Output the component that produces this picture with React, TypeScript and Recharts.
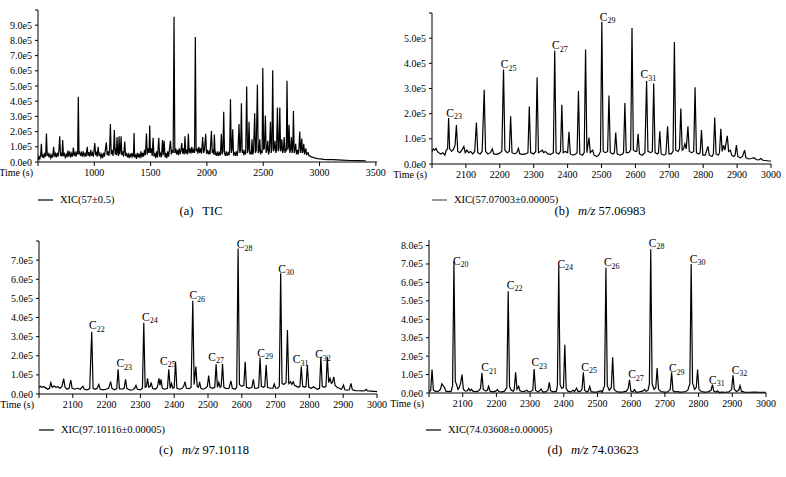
import React from 'react';
import { LineChart, Line, XAxis, YAxis, ReferenceDot } from 'recharts';

// intensities are in units of 1e5, times in seconds
const tic = [
  [500,0.15],[508,0.35],[516,0.2],[524,0.5],[530,1.2],[536,0.3],[544,0.45],[552,0.25],[560,0.6],[568,0.35],
  [575,1.88],[582,0.4],[590,0.6],[598,0.3],[606,0.5],[614,0.25],[622,0.45],[630,0.3],[639,1.0],[646,0.35],
  [654,0.55],[662,0.3],[670,0.6],[678,0.35],[686,0.8],[693,1.7],[700,0.4],[708,0.6],[713,0.35],[719,1.45],
  [726,0.4],[734,0.55],[742,0.3],[750,0.5],[758,0.3],[766,0.75],[774,0.35],[782,0.7],[790,0.3],[798,0.55],
  [806,0.35],[814,0.95],[822,0.4],[830,0.6],[838,0.35],[846,0.7],[852,0.5],[858,4.3],[864,0.5],[870,0.7],
  [878,0.4],[886,0.6],[894,0.35],[902,0.7],[910,0.4],[918,0.55],[926,0.35],[937,1.0],[944,0.4],[952,0.65],
  [960,0.35],[968,0.8],[976,0.4],[984,0.6],[992,0.35],[1004,1.25],[1012,0.45],[1020,0.6],[1026,0.35],[1034,1.0],
  [1042,0.4],[1050,0.55],[1058,0.3],[1066,0.5],[1074,0.25],[1082,0.6],[1090,0.35],[1098,0.8],[1107,1.3],[1114,0.45],
  [1122,0.7],[1130,0.4],[1136,0.9],[1143,2.5],[1150,0.5],[1158,0.8],[1166,0.4],[1172,0.9],[1178,2.1],[1185,0.5],
  [1192,0.9],[1196,0.45],[1202,1.65],[1208,0.6],[1214,0.4],[1220,1.7],[1226,0.5],[1232,0.8],[1238,1.7],[1244,0.45],
  [1252,0.7],[1260,0.35],[1270,1.35],[1278,0.4],[1286,0.6],[1294,0.3],[1302,0.5],[1310,0.25],[1318,0.55],[1326,0.3],
  [1334,0.6],[1342,0.35],[1348,0.45],[1353,1.9],[1358,0.3],[1366,0.5],[1374,0.2],[1382,0.6],[1390,0.3],[1398,0.55],
  [1406,0.25],[1414,0.7],[1422,0.3],[1430,0.6],[1438,0.35],[1446,0.8],[1454,0.45],[1463,1.88],[1470,0.5],[1478,0.9],
  [1486,0.6],[1492,2.4],[1498,0.6],[1506,0.9],[1514,0.4],[1522,1.6],[1530,0.35],[1538,0.6],[1546,0.25],[1554,0.7],
  [1562,0.3],[1572,1.6],[1580,0.35],[1588,0.55],[1596,0.3],[1605,1.45],[1612,0.45],[1620,1.4],[1628,0.3],[1636,0.6],
  [1644,0.25],[1652,0.7],[1660,0.35],[1668,0.9],[1676,1.4],[1684,0.5],[1692,0.8],[1700,0.6],[1708,9.55],[1715,0.6],
  [1722,0.9],[1730,0.5],[1738,0.8],[1746,0.45],[1754,0.9],[1762,0.5],[1770,0.8],[1776,1.25],[1784,0.55],[1792,0.9],
  [1798,0.5],[1805,1.7],[1812,0.55],[1820,0.8],[1828,0.5],[1835,1.85],[1842,0.6],[1850,0.9],[1858,0.55],[1866,1.0],
  [1874,0.6],[1882,0.8],[1890,0.6],[1897,8.22],[1904,0.7],[1912,0.9],[1920,0.55],[1928,1.0],[1936,0.6],[1944,0.9],
  [1952,0.55],[1962,1.65],[1970,0.6],[1978,0.8],[1989,1.85],[1996,0.55],[2004,0.8],[2012,0.5],[2020,0.7],[2028,0.5],
  [2040,2.05],[2047,0.6],[2054,0.8],[2060,0.5],[2066,1.8],[2073,0.45],[2080,0.6],[2088,0.4],[2096,0.7],[2104,0.4],
  [2112,0.6],[2120,0.45],[2128,1.85],[2135,0.5],[2142,0.7],[2149,3.3],[2156,0.6],[2164,0.4],[2172,0.7],[2180,0.4],
  [2188,0.6],[2196,0.45],[2202,0.8],[2209,4.13],[2216,0.6],[2222,0.8],[2229,2.15],[2236,0.5],[2244,0.6],[2252,0.4],
  [2260,0.7],[2268,0.4],[2276,0.8],[2285,2.5],[2292,0.6],[2299,0.8],[2306,3.86],[2313,0.6],[2320,0.8],[2328,0.45],
  [2336,0.7],[2344,0.5],[2353,4.97],[2360,0.6],[2367,0.8],[2374,2.65],[2381,0.5],[2388,0.7],[2394,0.5],[2400,1.5],
  [2407,0.5],[2414,0.7],[2424,3.2],[2431,0.6],[2438,0.8],[2448,5.08],[2455,0.6],[2462,0.7],[2469,1.5],[2476,0.5],
  [2483,0.7],[2490,0.6],[2496,6.18],[2503,0.8],[2510,0.9],[2519,3.05],[2526,0.6],[2533,0.8],[2540,1.4],[2547,0.5],
  [2554,0.7],[2564,2.65],[2571,0.6],[2577,0.9],[2584,6.03],[2591,0.7],[2597,0.9],[2604,1.4],[2611,0.6],[2618,0.8],
  [2626,3.58],[2633,0.7],[2640,0.9],[2647,3.58],[2654,0.7],[2660,0.9],[2665,1.5],[2672,0.6],[2679,0.8],[2686,1.65],
  [2693,0.6],[2700,0.9],[2705,0.7],[2711,5.34],[2718,0.8],[2723,1.0],[2729,2.45],[2736,0.6],[2743,0.8],[2750,1.65],
  [2757,0.6],[2762,0.9],[2768,3.36],[2775,0.6],[2781,0.8],[2788,1.2],[2795,0.5],[2802,0.8],[2810,0.5],[2817,0.9],
  [2824,2.0],[2831,0.6],[2836,0.9],[2842,1.55],[2848,0.6],[2854,0.8],[2860,1.2],[2866,0.5],[2872,0.7],[2878,0.9],
  [2885,0.45],[2892,0.6],[2899,0.6],[2906,0.4],[2915,0.4],[2925,0.35],[2935,0.3],[2945,0.3],[2960,0.25],[2980,0.22],
  [3004,0.2],[3040,0.17],[3080,0.16],[3122,0.15],[3200,0.12],[3270,0.1],[3340,0.09],[3410,0.08],
];

const xic57 = [
  [2000,0.5],[2004,0.6],[2008,0.55],[2012,0.62],[2016,0.5],[2020,0.45],[2026,0.4],[2032,0.45],[2038,0.35],[2042,0.55],
  [2046,0.6],[2049,1.83],[2052,0.6],[2058,0.5],[2064,0.6],[2068,0.75],[2072,1.55],[2076,0.5],[2082,0.45],[2088,0.55],
  [2094,0.7],[2098,0.45],[2103,0.55],[2108,0.45],[2114,0.5],[2120,0.4],[2126,0.5],[2131,1.65],[2135,0.45],[2142,0.4],
  [2148,0.5],[2154,2.95],[2158,0.5],[2165,0.4],[2172,0.45],[2178,0.6],[2182,0.4],[2190,0.38],[2198,0.42],[2206,0.5],
  [2211,3.75],[2215,0.55],[2222,0.45],[2228,0.5],[2232,1.9],[2236,0.45],[2244,0.4],[2250,0.45],[2255,0.62],[2259,0.4],
  [2268,0.38],[2276,0.4],[2283,0.45],[2287,2.28],[2291,0.45],[2300,0.4],[2306,0.5],[2310,3.45],[2314,0.45],[2320,0.5],
  [2326,0.55],[2329,0.45],[2334,0.5],[2342,0.4],[2350,0.38],[2358,0.45],[2362,4.5],[2366,0.45],[2374,0.4],[2379,0.5],
  [2383,2.35],[2387,0.45],[2393,0.5],[2400,0.45],[2404,1.28],[2408,0.4],[2416,0.35],[2424,0.4],[2428,0.45],[2432,2.9],
  [2436,0.4],[2444,0.35],[2449,0.45],[2453,4.55],[2457,0.45],[2463,1.05],[2467,0.45],[2474,0.55],[2478,0.35],[2486,0.3],
  [2492,0.35],[2497,0.5],[2501,5.65],[2505,0.5],[2512,0.45],[2518,0.5],[2522,2.72],[2526,0.45],[2534,0.4],[2538,0.45],
  [2542,1.25],[2546,0.4],[2555,0.35],[2562,0.4],[2565,0.45],[2569,2.42],[2573,0.45],[2580,0.45],[2586,0.55],[2590,5.4],
  [2594,0.55],[2600,0.5],[2604,0.5],[2608,1.2],[2612,0.4],[2620,0.35],[2628,0.45],[2633,3.3],[2637,0.5],[2645,0.45],
  [2650,0.5],[2654,3.2],[2658,0.45],[2665,0.4],[2668,0.45],[2672,1.3],[2676,0.4],[2684,0.35],[2690,0.4],[2695,1.5],
  [2699,0.4],[2706,0.4],[2711,0.5],[2715,4.85],[2719,0.55],[2726,0.5],[2730,0.6],[2734,2.2],[2738,0.55],[2742,0.6],
  [2746,0.8],[2750,0.6],[2755,1.5],[2759,0.5],[2766,0.45],[2772,0.5],[2776,3.05],[2780,0.45],[2787,0.4],[2791,0.45],
  [2795,1.35],[2799,0.35],[2806,0.35],[2814,0.7],[2818,0.35],[2826,0.3],[2830,0.4],[2834,1.85],[2838,0.4],[2845,0.35],
  [2848,0.45],[2852,1.4],[2856,0.5],[2860,0.75],[2864,0.55],[2871,1.12],[2875,0.5],[2880,0.55],[2884,0.35],[2890,0.3],
  [2894,0.35],[2898,0.75],[2902,0.3],[2910,0.25],[2916,0.3],[2922,0.55],[2926,0.25],[2935,0.2],[2942,0.22],[2950,0.25],
  [2956,0.18],[2964,0.16],[2970,0.22],[2976,0.15],[2984,0.14],[2992,0.12],[3000,0.12],
];

const xic97 = [
  [2000,0.35],[2004,0.4],[2008,0.35],[2014,0.38],[2020,0.32],[2026,0.25],[2031,0.3],[2035,0.6],[2039,0.35],[2044,0.42],
  [2050,0.35],[2056,0.38],[2062,0.3],[2068,0.4],[2073,0.8],[2077,0.35],[2083,0.25],[2089,0.3],[2094,0.73],[2098,0.3],
  [2106,0.25],[2114,0.3],[2122,0.25],[2130,0.4],[2134,0.25],[2142,0.22],[2150,0.28],[2156,3.26],[2160,0.3],[2166,0.25],
  [2172,0.3],[2177,0.5],[2181,0.25],[2190,0.22],[2198,0.25],[2206,0.3],[2212,0.65],[2216,0.28],[2224,0.22],[2230,0.28],
  [2234,1.29],[2238,0.28],[2246,0.25],[2252,0.3],[2256,0.77],[2260,0.28],[2270,0.2],[2278,0.22],[2283,0.3],[2287,0.45],
  [2291,0.25],[2300,0.22],[2306,0.3],[2310,3.73],[2314,0.35],[2318,0.4],[2321,0.82],[2325,0.35],[2329,0.4],[2332,0.6],
  [2336,0.3],[2344,0.25],[2350,0.35],[2355,0.82],[2358,0.45],[2361,0.77],[2365,0.3],[2372,0.25],[2380,0.3],[2384,1.29],
  [2388,0.3],[2392,0.55],[2396,0.3],[2400,0.35],[2404,1.69],[2408,0.3],[2416,0.25],[2424,0.3],[2428,0.4],[2432,0.64],
  [2436,0.3],[2444,0.28],[2450,0.35],[2455,4.88],[2459,0.5],[2464,1.43],[2468,0.4],[2472,0.35],[2475,0.64],[2479,0.3],
  [2486,0.25],[2492,0.3],[2498,0.4],[2502,0.96],[2506,0.35],[2514,0.3],[2520,0.35],[2524,1.55],[2528,0.35],[2532,0.6],
  [2536,0.35],[2539,0.4],[2543,1.57],[2547,0.35],[2554,0.28],[2562,0.3],[2568,0.68],[2572,0.3],[2580,0.25],[2585,0.35],
  [2589,7.61],[2593,0.5],[2600,0.4],[2606,0.45],[2610,1.69],[2614,0.35],[2622,0.3],[2630,0.35],[2634,0.77],[2638,0.3],
  [2646,0.3],[2650,0.35],[2654,1.9],[2658,0.4],[2664,0.35],[2668,0.4],[2672,1.52],[2676,0.35],[2684,0.3],[2692,0.3],
  [2696,0.52],[2700,0.3],[2706,0.3],[2711,0.4],[2715,6.31],[2719,0.55],[2724,0.5],[2731,0.6],[2735,3.34],[2739,0.55],
  [2744,0.64],[2748,0.5],[2752,0.64],[2756,0.45],[2762,0.4],[2768,0.35],[2772,0.4],[2776,1.43],[2780,0.4],[2786,0.35],
  [2790,0.4],[2794,1.52],[2798,0.35],[2806,0.3],[2812,0.38],[2818,0.3],[2824,0.25],[2830,0.3],[2834,1.95],[2838,0.4],
  [2844,0.35],[2849,0.4],[2853,1.95],[2857,0.6],[2861,0.82],[2865,0.55],[2868,0.6],[2872,0.9],[2876,0.45],[2882,0.35],
  [2888,0.3],[2894,0.25],[2897,0.3],[2901,0.47],[2905,0.22],[2912,0.2],[2918,0.22],[2923,0.56],[2927,0.22],[2936,0.18],
  [2946,0.17],[2956,0.16],[2964,0.18],[2968,0.24],[2972,0.16],[2982,0.15],[2992,0.14],[3000,0.12],
];

const xic74 = [
  [2000,0.1],[2005,0.12],[2009,1.27],[2013,0.15],[2020,0.08],[2028,0.1],[2034,0.2],[2038,0.5],[2042,0.4],[2046,0.3],
  [2050,0.1],[2058,0.08],[2066,0.1],[2070,0.4],[2074,7.15],[2078,0.63],[2082,0.45],[2086,0.2],[2090,0.3],[2094,0.55],
  [2098,1.0],[2102,0.2],[2108,0.1],[2114,0.12],[2118,0.25],[2122,0.12],[2126,0.2],[2130,0.1],[2138,0.08],[2146,0.1],
  [2153,0.25],[2157,1.09],[2161,0.2],[2168,0.1],[2173,0.15],[2177,0.36],[2181,0.1],[2190,0.06],[2198,0.1],[2203,0.18],
  [2207,0.08],[2216,0.06],[2224,0.1],[2231,0.3],[2235,5.52],[2239,0.35],[2244,0.15],[2250,0.1],[2253,0.2],[2257,1.12],
  [2261,0.2],[2266,0.36],[2270,0.12],[2278,0.07],[2285,0.1],[2290,0.15],[2294,0.08],[2300,0.06],[2308,0.15],[2312,1.3],
  [2316,0.15],[2324,0.06],[2333,0.22],[2337,0.06],[2346,0.06],[2353,0.15],[2357,0.58],[2361,0.12],[2370,0.06],[2378,0.1],
  [2381,0.4],[2385,6.88],[2389,0.45],[2394,0.25],[2399,0.3],[2403,2.62],[2407,0.25],[2412,0.1],[2420,0.06],[2428,0.15],
  [2432,0.08],[2438,0.27],[2442,0.08],[2450,0.1],[2454,0.2],[2458,1.12],[2462,0.15],[2468,0.06],[2473,0.12],[2477,0.36],
  [2481,0.08],[2490,0.05],[2500,0.06],[2510,0.12],[2514,0.05],[2521,0.4],[2525,6.79],[2529,0.4],[2535,0.15],[2541,0.3],
  [2545,1.94],[2549,0.2],[2556,0.08],[2566,0.05],[2576,0.06],[2586,0.1],[2591,0.25],[2595,0.72],[2599,0.1],[2605,0.06],
  [2610,0.18],[2614,0.05],[2624,0.06],[2634,0.1],[2640,0.2],[2644,0.08],[2650,0.15],[2654,0.5],[2658,7.8],[2662,0.5],
  [2668,0.2],[2673,0.3],[2677,1.36],[2681,0.2],[2688,0.08],[2698,0.05],[2708,0.06],[2716,0.2],[2720,1.12],[2724,0.12],
  [2730,0.06],[2738,0.08],[2744,0.05],[2754,0.06],[2762,0.08],[2768,0.15],[2774,0.5],[2778,7.0],[2782,0.55],[2788,0.2],
  [2793,0.3],[2797,1.27],[2801,0.2],[2808,0.08],[2818,0.05],[2828,0.06],[2837,0.15],[2841,0.45],[2845,0.1],[2852,0.05],
  [2856,0.12],[2860,0.04],[2870,0.05],[2880,0.04],[2890,0.06],[2898,0.2],[2902,0.96],[2906,0.2],[2912,0.08],[2919,0.15],
  [2923,0.4],[2927,0.1],[2936,0.05],[2950,0.04],[2965,0.05],[2980,0.04],[3000,0.04],
];

// peak annotations: [carbon number, time, intensity] where the label sits
const labels57 = [[23,2042,1.87],[25,2203,3.81],[27,2354,4.56],[29,2495,5.69],[31,2615,3.41]];
const labels97 = [
  [22,2148,3.38],[23,2229,1.39],[24,2305,3.83],[25,2358,1.52],[26,2445,4.95],[27,2501,1.74],
  [28,2585,7.61],[29,2646,1.95],[30,2708,6.34],[31,2751,1.6],[32,2817,1.86],
];
const labels74 = [
  [20,2071,6.97],[21,2155,1.18],[22,2231,5.65],[23,2304,1.45],[24,2381,6.79],[25,2452,1.21],[26,2519,6.88],
  [27,2591,0.81],[28,2652,7.93],[29,2712,1.12],[30,2774,7.06],[31,2831,0.51],[32,2898,1.05],
];

const ticTimeTicks = [500, 1000, 1500, 2000, 2500, 3000, 3500];
const xicTimeTicks = [2000, 2100, 2200, 2300, 2400, 2500, 2600, 2700, 2800, 2900, 3000];
const ticks10 = [0, 1, 2, 3, 4, 5, 6, 7, 8, 9, 10];
const ticks6 = [0, 1, 2, 3, 4, 5, 6];
const ticks8 = [0, 1, 2, 3, 4, 5, 6, 7, 8];

const legendNames = ['XIC(57±0.5)', 'XIC(57.07003±0.00005)', 'XIC(97.10116±0.00005)', 'XIC(74.03608±0.00005)'];

const SERIF = "'Liberation Serif', 'Times New Roman', serif";

const toRows = (pairs) => pairs.map(([t, v]) => ({ t, v }));

const TimeTick = (props) => {
  const { x, y, payload, first } = props;
  if (payload.value === first) {
    return (
      <text x={x - 5} y={y} dy="0.71em" textAnchor="end" fontFamily={SERIF} fontSize={10} fill="#000">
        Time (s)
      </text>
    );
  }
  return (
    <text x={x} y={y} dy="0.71em" textAnchor="middle" fontFamily={SERIF} fontSize={10} fill="#000">
      {payload.value}
    </text>
  );
};

const IntensityTick = (props) => {
  const { x, y, payload, maxLabel } = props;
  const v = payload.value;
  const text = v === 0 ? '0.0e0' : v > maxLabel ? '' : `${v.toFixed(1)}e5`;
  return (
    <text x={x} y={y} dy="0.35em" textAnchor="end" fontFamily={SERIF} fontSize={10} fill="#000">
      {text}
    </text>
  );
};

const PeakLabel = ({ cx, cy, n }) => (
  <text x={cx} y={cy} fontFamily={SERIF} fontSize={11.5} fill="#000" stroke="none">
    C<tspan fontSize={8} dy={2.5} fill="#000">{n}</tspan>
  </text>
);

function Panel({ left, top, width, height, margin, yWidth, pairs, xDomain, xTicks, yDomain, yTicks, maxLabel, labels, strokeWidth }) {
  return (
    <div style={{ position: 'absolute', left, top }}>
      <LineChart width={width} height={height} data={toRows(pairs)} margin={margin}>
        <XAxis
          dataKey="t"
          type="number"
          domain={xDomain}
          ticks={xTicks}
          interval={0}
          height={20}
          stroke="#000"
          tickSize={4}
          tickMargin={3}
          tick={<TimeTick first={xDomain[0]} />}
        />
        <YAxis
          type="number"
          domain={yDomain}
          ticks={yTicks}
          interval={0}
          width={yWidth}
          stroke="#000"
          tickSize={3}
          tickMargin={3}
          tick={<IntensityTick maxLabel={maxLabel} />}
        />
        <Line
          dataKey="v"
          type="linear"
          stroke="#000"
          strokeWidth={strokeWidth}
          dot={false}
          isAnimationActive={false}
        />
        {labels.map(([n, t, v]) => (
          <ReferenceDot
            key={n}
            x={t}
            y={v}
            r={0}
            ifOverflow="visible"
            shape={(p) => <PeakLabel cx={p.cx} cy={p.cy} n={n} />}
          />
        ))}
      </LineChart>
    </div>
  );
}

function Legend({ left, top, name, color }) {
  return (
    <div style={{ position: 'absolute', left, top, display: 'flex', alignItems: 'center', fontFamily: SERIF, fontSize: 10.5, whiteSpace: 'nowrap' }}>
      <svg width={15} height={4} style={{ marginRight: 7 }}>
        <line x1={0} y1={2} x2={15} y2={2} stroke={color} strokeWidth={1.2} />
      </svg>
      <span>{name}</span>
    </div>
  );
}

function Caption({ cx, top, tag, children }) {
  return (
    <div style={{ position: 'absolute', left: cx - 100, top, width: 200, textAlign: 'center', fontFamily: SERIF, fontSize: 12.5, whiteSpace: 'nowrap' }}>
      <span style={{ marginRight: 9 }}>{tag}</span>
      {children}
    </div>
  );
}

export default function App() {
  return (
    <div style={{ position: 'absolute', left: 0, top: 0, width: 786, height: 477, background: '#fff', overflow: 'hidden' }}>
      <Panel
        left={0} top={0} width={393} height={185}
        margin={{ top: 10, right: 16, bottom: 3, left: 0 }} yWidth={38}
        pairs={tic} xDomain={[500, 3510]} xTicks={ticTimeTicks}
        yDomain={[0, 10]} yTicks={ticks10} maxLabel={9} labels={[]} strokeWidth={1.2}
      />
      <Panel
        left={380} top={0} width={406} height={185}
        margin={{ top: 13, right: 15, bottom: 1, left: 0 }} yWidth={52}
        pairs={xic57} xDomain={[2000, 3000]} xTicks={xicTimeTicks}
        yDomain={[0, 6]} yTicks={ticks6} maxLabel={5} labels={labels57} strokeWidth={1.2}
      />
      <Panel
        left={0} top={230} width={393} height={185}
        margin={{ top: 11, right: 16, bottom: 1, left: 0 }} yWidth={39}
        pairs={xic97} xDomain={[2000, 3000]} xTicks={xicTimeTicks}
        yDomain={[0, 8]} yTicks={ticks8} maxLabel={7} labels={labels97} strokeWidth={1.2}
      />
      <Panel
        left={380} top={230} width={406} height={185}
        margin={{ top: 10, right: 20, bottom: 2, left: 0 }} yWidth={49}
        pairs={xic74} xDomain={[2000, 3000]} xTicks={xicTimeTicks}
        yDomain={[0, 8.3]} yTicks={ticks8} maxLabel={8} labels={labels74} strokeWidth={1.2}
      />

      <Legend left={38} top={194} name={legendNames[0]} color="#000" />
      <Legend left={432} top={194} name={legendNames[1]} color="#555" />
      <Legend left={39} top={424} name={legendNames[2]} color="#000" />
      <Legend left={426} top={424} name={legendNames[3]} color="#000" />

      <Caption cx={201} top={204} tag="(a)">TIC</Caption>
      <Caption cx={600} top={204} tag="(b)"><i>m/z</i> 57.06983</Caption>
      <Caption cx={204} top={443} tag="(c)"><i>m/z</i> 97.10118</Caption>
      <Caption cx={593} top={443} tag="(d)"><i>m/z</i> 74.03623</Caption>
    </div>
  );
}
